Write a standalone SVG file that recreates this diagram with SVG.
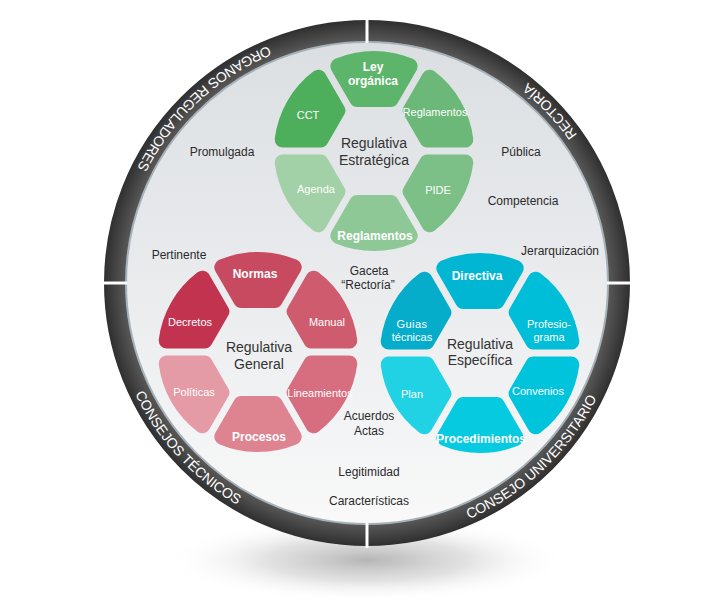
<svg xmlns="http://www.w3.org/2000/svg" width="718" height="613" viewBox="0 0 718 613">
<defs>
  <radialGradient id="shadowG" cx="0.5" cy="0.5" r="0.5">
    <stop offset="0" stop-color="#a8a8a8" stop-opacity="0.85"/>
    <stop offset="0.5" stop-color="#c4c4c4" stop-opacity="0.5"/>
    <stop offset="1" stop-color="#ffffff" stop-opacity="0"/>
  </radialGradient>
  <radialGradient id="ringG" gradientUnits="userSpaceOnUse" cx="367" cy="283" r="263">
    <stop offset="0.91" stop-color="#5c5c5c"/>
    <stop offset="1" stop-color="#2f2f2f"/>
  </radialGradient>
  <linearGradient id="discG" x1="0" y1="0" x2="0" y2="1">
    <stop offset="0" stop-color="#dcdfe2"/>
    <stop offset="0.6" stop-color="#eceef0"/>
    <stop offset="1" stop-color="#f9f9f9"/>
  </linearGradient>
  <path id="petal" d="M52,-16.74 L84.8,-35.68 A92,92 0 0 1 84.8,35.68 L52,16.74 Z" stroke-width="16" stroke-linejoin="round"/>
  <path id="arcOrg" d="M398.3,27.9 A257,257 0 0 0 110.4,296.4"/>
  <path id="arcRec" d="M623.6,268.7 A257,257 0 0 0 397.4,27.8"/>
  <path id="arcTec" d="M112.1,249.9 A257,257 0 0 0 378.7,539.7"/>
  <path id="arcUni" d="M337.5,538.3 A257,257 0 0 0 623.5,267.8"/>
</defs>
<style>
  text { font-family: "Liberation Sans", Arial, sans-serif; }
  .ring { fill: #ffffff; font-size: 14px; }
  .lbl { fill: #2b2b2b; font-size: 12px; text-anchor: middle; }
  .ctr { fill: #333333; font-size: 14px; text-anchor: middle; }
  .pl { fill: #ffffff; font-size: 11px; text-anchor: middle; }
  .pb { fill: #ffffff; font-size: 12px; font-weight: bold; text-anchor: middle; }
  .gap { stroke: #ffffff; stroke-width: 3; }
</style>
<rect width="718" height="613" fill="#ffffff"/>
<ellipse cx="367" cy="560" rx="200" ry="42" fill="url(#shadowG)"/>

<g id="frame">
  <circle cx="367" cy="283" r="252" fill="none" stroke="url(#ringG)" stroke-width="22"/>
  <circle cx="367" cy="283" r="241" fill="url(#discG)" stroke="#a7b1b8" stroke-width="2"/>
  <line class="gap" x1="367" y1="18" x2="367" y2="43"/>
  <line class="gap" x1="367" y1="523" x2="367" y2="548"/>
  <line class="gap" x1="102" y1="283" x2="127" y2="283"/>
  <line class="gap" x1="607" y1="283" x2="632" y2="283"/>
</g>

<g id="ring-labels">
  <text class="ring"><textPath href="#arcOrg" startOffset="50%" text-anchor="middle">ORGANOS REGULADORES</textPath></text>
  <text class="ring"><textPath href="#arcRec" startOffset="50%" text-anchor="middle">RECTORÍA</textPath></text>
  <text class="ring"><textPath href="#arcTec" startOffset="50%" text-anchor="middle">CONSEJOS TÉCNICOS</textPath></text>
  <text class="ring"><textPath href="#arcUni" startOffset="50%" text-anchor="middle">CONSEJO UNIVERSITARIO</textPath></text>
</g>

<g id="regulativa-estrategica">
  <g id="g-cct"><use href="#petal" transform="translate(374,151) rotate(210)" fill="#4dae5c" stroke="#4dae5c"/><text class="pl" x="308" y="119">CCT</text></g>
  <g id="g-ley"><use href="#petal" transform="translate(374,151) rotate(270)" fill="#5db56b" stroke="#5db56b"/><text class="pb" x="373" y="71">Ley</text><text class="pb" x="373" y="85">orgánica</text></g>
  <g id="g-reglamentos1"><use href="#petal" transform="translate(374,151) rotate(330)" fill="#6bb878" stroke="#6bb878"/><text class="pl" x="435" y="116" font-size="10.5">Reglamentos</text></g>
  <g id="g-pide"><use href="#petal" transform="translate(374,151) rotate(30)" fill="#7cbf87" stroke="#7cbf87"/><text class="pl" x="438" y="194">PIDE</text></g>
  <g id="g-reglamentos2"><use href="#petal" transform="translate(374,151) rotate(90)" fill="#8ec896" stroke="#8ec896"/><text class="pb" x="375" y="240">Reglamentos</text></g>
  <g id="g-agenda"><use href="#petal" transform="translate(374,151) rotate(150)" fill="#a2d0a7" stroke="#a2d0a7"/><text class="pl" x="316" y="193">Agenda</text></g>
  <text class="ctr" x="374" y="148">Regulativa</text>
  <text class="ctr" x="374" y="165">Estratégica</text>
</g>

<g id="regulativa-general">
  <g id="g-decretos"><use href="#petal" transform="translate(258,352) rotate(210)" fill="#c1334f" stroke="#c1334f"/><text class="pl" x="190" y="326">Decretos</text></g>
  <g id="g-normas"><use href="#petal" transform="translate(258,352) rotate(270)" fill="#c84a60" stroke="#c84a60"/><text class="pb" x="255" y="278">Normas</text></g>
  <g id="g-manual"><use href="#petal" transform="translate(258,352) rotate(330)" fill="#cf5b6e" stroke="#cf5b6e"/><text class="pl" x="327" y="326">Manual</text></g>
  <g id="g-lineamientos"><use href="#petal" transform="translate(258,352) rotate(30)" fill="#d76e7f" stroke="#d76e7f"/><text class="pl" x="320" y="397" font-size="10.5">Lineamientos</text></g>
  <g id="g-procesos"><use href="#petal" transform="translate(258,352) rotate(90)" fill="#de8491" stroke="#de8491"/><text class="pb" x="259" y="441">Procesos</text></g>
  <g id="g-politicas"><use href="#petal" transform="translate(258,352) rotate(150)" fill="#e49ba6" stroke="#e49ba6"/><text class="pl" x="194" y="396">Políticas</text></g>
  <text class="ctr" x="259" y="352">Regulativa</text>
  <text class="ctr" x="259" y="369">General</text>
</g>

<g id="regulativa-especifica">
  <g id="g-guias"><use href="#petal" transform="translate(480,353) rotate(210)" fill="#05adcb" stroke="#05adcb"/><text class="pl" x="412" y="328" letter-spacing="0.5">Guias</text><text class="pl" x="412" y="341">técnicas</text></g>
  <g id="g-directiva"><use href="#petal" transform="translate(480,353) rotate(270)" fill="#00b6d3" stroke="#00b6d3"/><text class="pb" x="477" y="280">Directiva</text></g>
  <g id="g-profesiograma"><use href="#petal" transform="translate(480,353) rotate(330)" fill="#00bdd8" stroke="#00bdd8"/><text class="pl" x="549" y="328">Profesio-</text><text class="pl" x="549" y="341">grama</text></g>
  <g id="g-convenios"><use href="#petal" transform="translate(480,353) rotate(30)" fill="#00c3dc" stroke="#00c3dc"/><text class="pl" x="538" y="395">Convenios</text></g>
  <g id="g-procedimientos"><use href="#petal" transform="translate(480,353) rotate(90)" fill="#06cadf" stroke="#06cadf"/><text class="pb" x="481" y="443" font-size="11">Procedimientos</text></g>
  <g id="g-plan"><use href="#petal" transform="translate(480,353) rotate(150)" fill="#20d2e3" stroke="#20d2e3"/><text class="pl" x="412" y="398">Plan</text></g>
  <text class="ctr" x="480" y="349">Regulativa</text>
  <text class="ctr" x="480" y="365">Específica</text>
</g>

<g id="labels">
  <text class="lbl" x="222" y="156">Promulgada</text>
  <text class="lbl" x="521" y="156">Pública</text>
  <text class="lbl" x="523" y="205">Competencia</text>
  <text class="lbl" x="560" y="255">Jerarquización</text>
  <text class="lbl" x="179" y="259">Pertinente</text>
  <text class="lbl" x="369" y="275">Gaceta</text>
  <text class="lbl" x="368" y="289">“Rectoría”</text>
  <text class="lbl" x="369" y="420">Acuerdos</text>
  <text class="lbl" x="369" y="435">Actas</text>
  <text class="lbl" x="369" y="476">Legitimidad</text>
  <text class="lbl" x="369" y="505">Características</text>
</g>
</svg>
